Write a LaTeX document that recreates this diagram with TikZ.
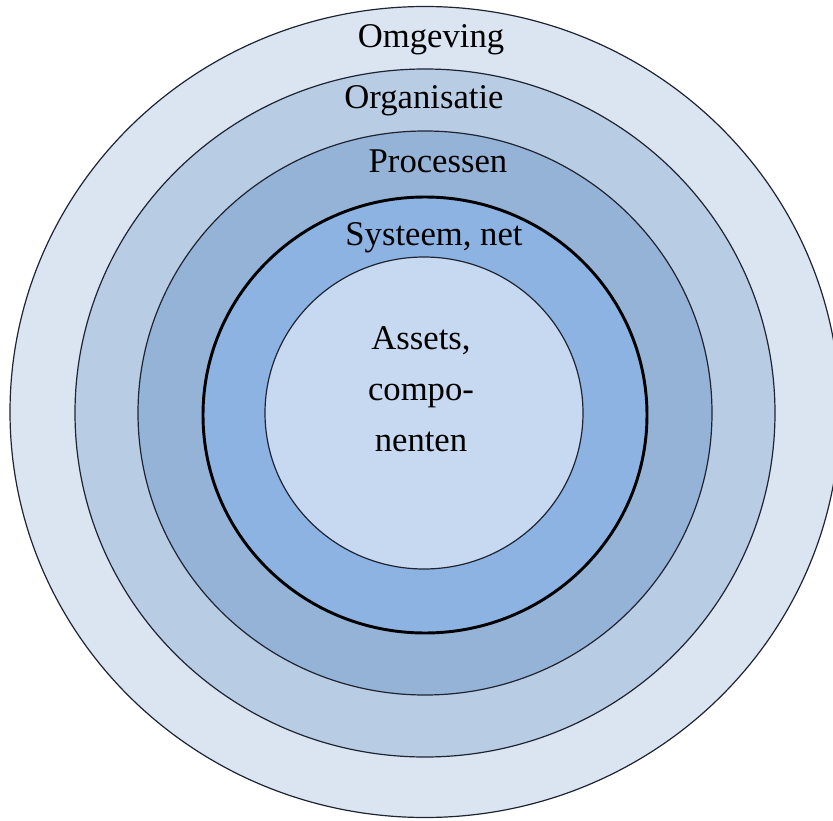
\documentclass[tikz,border=0pt]{standalone}
\usepackage{fontspec}
\setmainfont{Liberation Serif}
\definecolor{ringA}{RGB}{219,229,241}
\definecolor{ringB}{RGB}{184,204,228}
\definecolor{ringC}{RGB}{149,179,215}
\definecolor{ringD}{RGB}{141,179,226}
\definecolor{ringE}{RGB}{198,217,241}
\definecolor{rimline}{RGB}{30,36,50}
\begin{document}
\begin{tikzpicture}[x=0.75pt,y=0.75pt,yscale=-1,xscale=1,
	ringlabel/.style={anchor=base, inner sep=0.75pt, font=\fontsize{26}{38}\selectfont}]
	\useasboundingbox (0,0) rectangle (833,821);

	\draw [color=rimline, fill=ringA, line width=0.9pt] (425,412) ellipse (415 and 405.5);
	\draw [color=rimline, fill=ringB, line width=0.9pt] (425,413) ellipse (350 and 344);
	\draw [color=rimline, fill=ringC, line width=0.9pt] (425,413) ellipse (287 and 282);
	\draw [color=black, fill=ringD, line width=2.2pt] (425,415) ellipse (222 and 218);
	\draw [color=rimline, fill=ringE, line width=0.9pt] (424,413) ellipse (159 and 156);

	\draw (431,47) node [ringlabel] (omgeving) {Omgeving};
	\draw (424,108) node [ringlabel] (organisatie) {Organisatie};
	\draw (438,172) node [ringlabel] (processen) {Processen};
	\draw (434,245) node [ringlabel] (systeem) {Systeem, net};
	\draw (421,451) node [ringlabel, align=center] (assets) {Assets,\\ compo-\\ nenten};
\end{tikzpicture}
\end{document}
